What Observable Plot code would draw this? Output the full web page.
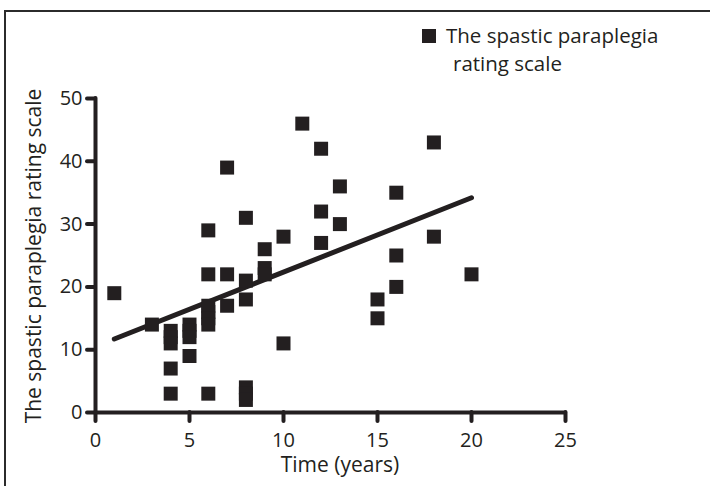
<!DOCTYPE html>
<html><head><meta charset="utf-8">
<script src="https://cdn.jsdelivr.net/npm/d3@7"></script>
<script src="https://cdn.jsdelivr.net/npm/@observablehq/plot@0.6"></script>
<style>
body{margin:0;background:#fff;font-family:"Open Sans",Lato,sans-serif;color:#231f20;}
#wrap{position:relative;width:710px;height:486px;overflow:hidden;background:#fff;}
#frame{position:absolute;left:4px;top:10px;width:900px;height:700px;border-left:2px solid #2b2b2b;border-top:2px solid #2b2b2b;pointer-events:none;}
#chart{position:absolute;left:0;top:0;}
.legend{position:absolute;left:422px;top:21px;font-size:20.5px;line-height:28px;}
.legend .sq{position:absolute;left:0;top:8px;width:14px;height:14px;background:#231f20;}
.legend .t1{position:absolute;left:24px;top:0;white-space:nowrap;}
.legend .t2{position:absolute;left:31px;top:28px;white-space:nowrap;}
.ytitle{position:absolute;left:-167px;top:244px;width:400px;height:24px;line-height:24px;text-align:center;font-size:21px;transform:rotate(-90deg);transform-origin:200px 12px;white-space:nowrap;}
.xtitle{position:absolute;left:240px;top:452px;width:200px;line-height:24px;text-align:center;font-size:21px;white-space:nowrap;}
</style>
</head><body>
<div id="wrap">
  <div id="chart"></div>
  <div id="frame"></div>
  <div class="legend"><div class="sq"></div><div class="t1">The spastic paraplegia</div><div class="t2">rating scale</div></div>
  <div class="ytitle">The spastic paraplegia rating scale</div>
  <div class="xtitle">Time (years)</div>
</div>
<script>
const years  = [1,3,4,4,4,4,4,5,5,5,5,6,6,6,6,6,6,6,7,7,7,8,8,8,8,8,8,9,9,9,10,10,11,12,12,12,13,13,15,15,16,16,16,18,18,20];
const scores = [19,14,13,12,11,7,3,14,13,12,9,29,22,17,16,15,14,3,39,22,17,31,21,18,4,3,2,26,23,22,28,11,46,42,32,27,36,30,18,15,35,25,20,43,28,22];
const fitYears  = [1, 20];
const fitScores = [11.7, 34.2];
const xTicks = [0,5,10,15,20,25];
const yTicks = [0,10,20,30,40,50];

const ink = "#231f20";
const points = years.map((x,i)=>({x, y: scores[i]}));
const fit = fitYears.map((x,i)=>({x, y: fitScores[i]}));

const chart = Plot.plot({
  width: 710, height: 486,
  marginLeft: 95, marginRight: 145, marginTop: 98, marginBottom: 74,
  x: {domain: [0,25]},
  y: {domain: [0,50]},
  style: {fontFamily: "'Open Sans', Lato, sans-serif", fontSize: "20px", color: ink, background: "transparent", overflow: "visible"},
  marks: [
    Plot.axisX({ticks: xTicks, tickSize: 9, tickPadding: 11, stroke: ink, strokeWidth: 4, strokeLinecap: "round", fontSize: 20, label: null, tickFormat: d => d}),
    Plot.axisY({ticks: yTicks, tickSize: 8, tickPadding: 5, stroke: ink, strokeWidth: 4, strokeLinecap: "round", fontSize: 20, label: null, tickFormat: d => d}),
    Plot.ruleX([0], {y1: 0, y2: 50, stroke: ink, strokeWidth: 4, strokeLinecap: "round"}),
    Plot.ruleY([0], {x1: 0, x2: 25, stroke: ink, strokeWidth: 4, strokeLinecap: "round"}),
    Plot.line(fit, {x: "x", y: "y", stroke: ink, strokeWidth: 5, strokeLinecap: "round"}),
    Plot.dot(points, {x: "x", y: "y", symbol: "square", r: 7.9, fill: ink, stroke: null})
  ]
});
document.getElementById("chart").appendChild(chart);
</script>
</body></html>
